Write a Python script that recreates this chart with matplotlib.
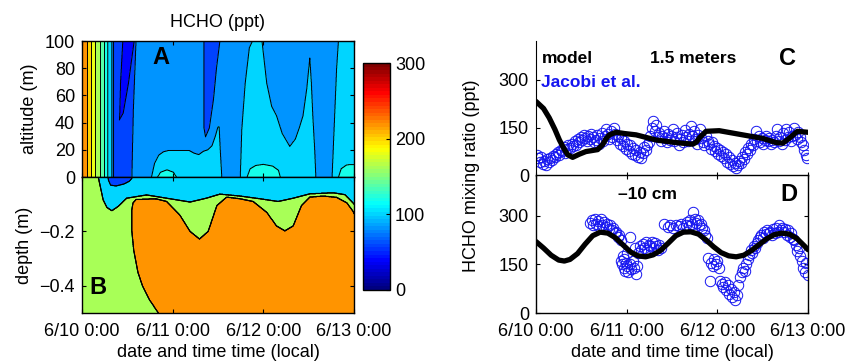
import numpy as np
import matplotlib
matplotlib.use('Agg')
import matplotlib.pyplot as plt
from matplotlib.colors import LinearSegmentedColormap, Normalize
from matplotlib.cm import ScalarMappable

plt.rcParams['font.family'] = ['Liberation Sans', 'DejaVu Sans']
plt.rcParams['font.size'] = 13

# ------------------------------------------------------------------ data
date_ticks = [0, 24, 48, 72]                     # hours since 6/10 0:00
date_labels = ['6/10 0:00', '6/11 0:00', '6/12 0:00', '6/13 0:00']
contour_levels = list(range(0, 301, 20))
cbar_ticks = [0, 100, 200, 300]

# Panel A (air, altitude m) - regions of the HCHO field
a_background = 90
a_left_t = [0, 1.4, 7.9, 8.35, 8.4]
a_left_v = [235, 220, 100, 80, 70]
a_dark_val = 70
a_dark_right_alt = [0, 50, 100]
a_dark_right_t = [13.2, 13.6, 14.3]
a_navy_val = 50
a_navy_alt = [42, 47, 69, 100]
a_navy_left_t = [9.9, 10.0, 10.2, 10.8]
a_navy_right_t = [9.9, 10.9, 12.3, 13.8]
a_blob_val = 70
a_blob_alt = [29.6, 36, 57, 80, 100]
a_blob_left_t = [32.7, 32.3, 32.3, 32.3, 32.3]
a_blob_right_t = [32.7, 33.7, 34.8, 35.6, 36.5]
a_cyan_val = 110
a_cyan_t = [0, 18.2, 18.4, 19.2, 20.3, 21.5, 23.0, 28.3, 29.7, 30.9, 32.2, 33.3,
            34.4, 35.3, 36.0, 36.3, 36.6, 37.0, 37.2,
            41.7, 41.9, 42.3, 43.2, 44.3, 45.3, 47.6, 48.9, 50.2, 51.5, 53.0,
            55.0, 56.5, 57.5, 58.5, 59.5, 60.3, 60.7, 61.1, 61.6, 61.9, 62.1,
            66.0, 66.2, 66.8, 67.4, 67.9, 72]
a_cyan_top = [-5, -5, 0, 10, 16, 18.5, 19.6, 19.6, 17.5, 16.5, 19, 20,
              23, 30, 37, 37, 20, 0, -5,
              -5, 0, 35, 69, 95, 101, 101, 69, 52, 45, 32,
              22.5, 28, 36, 45, 65, 87.5, 70, 45, 20, 0, -5,
              -5, 0, 40, 80, 101, 101]
a_aqua_val = 130
a_aqua_t = [0, 19.7, 20.0, 20.8, 22.5, 24.2, 25.0, 25.3,
            43.4, 43.7, 44.5, 46.0, 48.0, 50.5, 52.0, 52.5, 52.8,
            67.6, 67.9, 68.6, 70.0, 71.0, 72]
a_aqua_top = [-3, -3, 0, 3.5, 5.3, 3.5, 0, -3,
              -3, 0, 6, 8.5, 9.3, 8, 5, 0, -3,
              -3, 0, 6, 8.8, 9.2, 9.2]

# Panel B (snow, depth m)
b_background = 170
b_cyan_val = 110
b_cyan_t = [0, 4.0, 4.3, 5.6, 6.6, 7.9, 9.6, 11.8, 17.1, 22.4, 28.6, 32.9,
            36.5, 41.8, 47.1, 51.9, 55.9, 60.3, 66.5, 69.6, 71.8, 72]
b_cyan_bottom = [0.02, 0.02, 0.0, -0.084, -0.112, -0.124, -0.108, -0.078,
                 -0.066, -0.078, -0.092, -0.078, -0.063, -0.07, -0.08, -0.09,
                 -0.078, -0.062, -0.058, -0.065, -0.096, -0.1]
b_strip_val = 70
b_strip_t = [0, 6.8, 7.0, 7.6, 9.0, 11.0, 12.5, 13.2, 13.4, 72]
b_strip_bottom = [0.01, 0.01, -0.012, -0.03, -0.033, -0.026, -0.016, -0.005, 0.01, 0.01]
b_orange_val = 230
b_orange_top_t = [13.2, 14.2, 19.5, 22.4, 25.9, 28.6, 31.1, 33.4, 35.7, 38.3,
                  41.8, 45.3, 48.9, 51.5, 53.7, 55.9, 58.1, 60.3, 63.9, 67.4,
                  70.1, 71.8, 72]
b_orange_top_d = [-0.095, -0.083, -0.08, -0.09, -0.14, -0.2, -0.228, -0.2,
                  -0.105, -0.074, -0.08, -0.09, -0.13, -0.18, -0.198, -0.18,
                  -0.105, -0.074, -0.07, -0.075, -0.095, -0.127, -0.135]
b_orange_left_depth = [0.08, 0.095, 0.12, 0.2, 0.27, 0.35, 0.4, 0.45, 0.5]
b_orange_left_t = [14.5, 13.5, 13.2, 13.2, 13.7, 14.8, 16.0, 17.8, 20.2]

# Panel C (1.5 m): model and Jacobi et al. measurements
c_model_t = [0, 2, 3.5, 5, 6.2, 7.4, 8.4, 9.7, 11.5, 13.2, 16.3, 17.6, 18.5,
             19.4, 21.2, 23.5, 26.5, 31.8, 37, 41.5, 42.5, 43.2, 45, 48.5,
             54.7, 60, 63.5, 65.3, 67, 69.2, 72]
c_model_v = [232, 210, 181, 145, 112, 85, 66, 58, 68, 76, 82, 97, 115,
             128, 136, 132, 128, 112, 104, 99, 106, 118, 139, 141,
             128, 117, 104, 102, 117, 139, 136]
c_obs_t = [0.2, 0.6, 1.0, 1.4, 1.8, 2.2, 2.6, 3.0, 3.4, 3.8, 4.2, 4.6, 5.0, 5.4,
           5.8, 6.2, 6.6, 7.0, 7.4, 7.8, 8.2, 8.6, 9.0, 9.4, 9.8, 10.2, 10.6,
           11.0, 11.4, 11.8, 12.2, 12.6, 13.0, 13.4, 13.8, 14.2, 14.6, 15.0,
           15.4, 15.8, 16.2, 16.6, 17.0, 17.4, 17.8, 18.2, 18.6, 19.0, 19.4,
           19.8, 20.2, 20.6, 21.0, 21.4, 21.8, 22.2, 22.6, 23.0, 23.4, 23.8,
           24.2, 24.6, 25.0, 25.4, 25.8, 26.2, 26.6, 27.0, 27.4, 27.8, 28.2,
           28.6, 29.0, 29.4, 29.8, 30.2, 30.6, 31.0, 31.4, 31.8, 32.2, 32.6,
           33.0, 33.4, 33.8, 34.2, 34.6, 35.0, 35.4, 35.8, 36.2, 36.6, 37.0,
           37.4, 37.8, 38.2, 38.6, 39.0, 39.4, 39.8, 40.2, 40.6, 41.0, 41.4,
           41.8, 42.2, 42.6, 43.0, 43.4, 43.8, 44.2, 44.6, 45.0, 45.4, 45.8,
           46.2, 46.6, 47.0, 47.4, 47.8, 48.2, 48.6, 49.0, 49.4, 49.8, 50.2,
           50.6, 51.0, 51.4, 51.8, 52.2, 52.6, 53.0, 53.4, 53.8, 54.2, 54.6,
           55.0, 55.4, 55.8, 56.2, 56.6, 57.0, 57.4, 57.8, 58.2, 58.6, 59.0,
           59.4, 59.8, 60.2, 60.6, 61.0, 61.4, 61.8, 62.2, 62.6, 63.0, 63.4,
           63.8, 64.2, 64.6, 65.0, 65.4, 65.8, 66.2, 66.6, 67.0, 67.4, 67.8,
           68.2, 68.6, 69.0, 69.4, 69.8, 70.2, 70.6, 71.0, 71.4, 71.8]
c_obs_v = [65, 55, 45, 60, 38, 48, 35, 52, 45, 55, 50, 62, 58, 70,
           75, 66, 82, 78, 90, 72, 85, 95, 88, 100, 92, 108, 98,
           115, 105, 122, 112, 128, 118, 108, 125, 115, 132, 120,
           105, 112, 128, 100, 118, 135, 110, 125, 145, 130, 115,
           140, 122, 148, 130, 112, 125, 100, 118, 92, 108, 85,
           100, 78, 95, 70, 88, 65, 80, 60, 75, 55, 72,
           90, 82, 98, 105, 125, 150, 170, 140, 160, 120, 135,
           110, 125, 140, 118, 105, 132, 112, 125, 145, 108, 120,
           135, 98, 115, 128, 105, 142, 120, 110, 130, 155, 125,
           140, 115, 100, 128, 145, 118, 105, 95, 125, 110, 100,
           85, 105, 92, 78, 88, 70, 82, 62, 75, 55, 68,
           45, 58, 38, 50, 30, 42, 25, 35, 48, 40, 60,
           52, 75, 68, 88, 80, 100, 95, 115, 140, 110, 125,
           105, 118, 100, 112, 125, 108, 118, 100, 112, 105, 125,
           145, 110, 120, 100, 135, 112, 145, 120, 138, 110, 125,
           148, 128, 115, 138, 120, 105, 95, 80, 65, 55]

# Panel D (-10 cm)
d_model_t = [0, 2, 4, 6, 7.5, 9, 11, 13, 15, 17, 19, 21, 23, 25, 27, 29, 31,
             33, 35, 37, 39, 41, 43, 45, 47, 49, 51, 53, 55, 57, 59, 61, 63,
             65, 67, 69, 71, 72]
d_model_v = [220, 200, 178, 163, 160, 165, 183, 212, 238, 249, 246, 232, 210,
             188, 176, 173, 179, 193, 215, 238, 249, 250, 243, 225, 204, 186,
             176, 173, 178, 192, 210, 228, 241, 246, 243, 230, 207, 195]
d_obs_t = [14.4, 14.8, 15.2, 15.6, 16.0, 16.4, 16.8, 17.2, 17.6, 18.0, 18.4,
           18.8, 19.2, 19.6, 20.0, 20.4, 20.8, 21.2, 21.6, 22.0, 22.4, 22.6,
           22.8, 23.0, 23.2, 23.4, 23.6, 23.8, 24.0, 24.2, 24.4, 24.8, 25.2,
           25.6, 26.0, 26.4, 26.8, 25.0, 26.2, 27.0, 27.4, 27.8, 28.2, 28.6,
           29.0, 29.4, 29.8, 30.2, 30.6, 31.0, 31.4, 31.8, 32.2, 32.6, 33.0,
           34.0, 35.0, 35.6, 36.2, 37.0, 37.8, 38.4, 39.0, 39.6, 40.0, 40.4,
           40.8, 41.2, 41.6, 42.0, 42.4, 42.8, 43.2, 43.6, 44.0, 44.4, 44.8,
           45.2, 45.6, 46.0, 46.4, 46.8, 47.2, 47.6, 48.0, 48.4, 48.8, 49.2,
           49.6, 50.0, 50.4, 50.8, 51.2, 51.6, 52.0, 52.4, 52.8, 53.2, 53.6,
           54.0, 54.4, 54.8, 55.2, 55.6, 56.0, 56.4, 56.8, 57.2, 57.6, 58.0,
           58.4, 58.8, 59.2, 59.6, 60.0, 60.4, 60.8, 61.2, 61.6, 62.0, 62.4,
           62.8, 63.2, 63.6, 64.0, 64.4, 64.8, 65.2, 65.6, 66.0, 66.4, 66.8,
           67.2, 67.6, 68.0, 68.4, 68.8, 69.2, 69.6, 70.0, 70.4, 70.8, 71.2,
           71.6, 71.9]
d_obs_v = [278, 285, 270, 290, 275, 282, 268, 288, 272, 280, 265,
           275, 260, 270, 255, 262, 245, 250, 235, 240, 225, 160,
           150, 175, 140, 165, 130, 155, 145, 185, 125, 150, 135,
           160, 140, 120, 145, 235, 200, 185, 205, 195, 212, 200,
           218, 195, 210, 205, 220, 200, 215, 205, 195, 210, 200,
           275, 265, 270, 262, 272, 268, 275, 262, 272, 280, 268,
           285, 275, 310, 288, 278, 285, 270, 275, 262, 255, 240,
           230, 170, 100, 155, 145, 165, 150, 160, 140, 100, 90,
           80, 95, 70, 85, 60, 75, 50, 65, 40, 55, 85,
           110, 125, 140, 130, 150, 165, 180, 195, 185, 205, 200,
           215, 225, 235, 240, 230, 250, 242, 255, 245, 250, 240,
           258, 245, 262, 250, 270, 255, 262, 248, 258, 240, 255,
           235, 245, 228, 225, 210, 190, 200, 175, 160, 140, 125,
           155, 118]

# ------------------------------------------------------------------ styles
mjet = LinearSegmentedColormap('mjet', {
    'red':   [(0, 0, 0), (3/8, 0, 0), (5/8, 1, 1), (7/8, 1, 1), (1, .5, .5)],
    'green': [(0, 0, 0), (1/8, 0, 0), (3/8, 1, 1), (5/8, 1, 1), (7/8, 0, 0), (1, 0, 0)],
    'blue':  [(0, .5, .5), (1/8, 1, 1), (3/8, 1, 1), (5/8, 0, 0), (1, 0, 0)],
}, N=64)
norm = Normalize(0, 300)
fill_colors = [mjet(norm(l)) for l in contour_levels[:-1]]

W, H = 848, 362
fig = plt.figure(figsize=(W / 100, H / 100), dpi=100)


def rect(x0, y0, x1, y1):
    return [x0 / W, 1 - y1 / H, (x1 - x0) / W, (y1 - y0) / H]


def style_ax(ax):
    ax.tick_params(direction='in', length=3, width=0.8, top=True, right=True,
                   labelsize=13, pad=5)
    ax.tick_params(axis='x', pad=7)
    for s in ax.spines.values():
        s.set_linewidth(1.0)


# ---------------- field A
tA = np.linspace(0, 72, 1441)
zA = np.linspace(0, 100, 501)
TA, ZA = np.meshgrid(tA, zA)
FA = np.full(TA.shape, float(a_background))
m = TA < 8.4
FA[m] = np.interp(TA[m], a_left_t, a_left_v)
m = (TA >= 8.4) & (TA < np.interp(ZA, a_dark_right_alt, a_dark_right_t))
FA[m] = a_dark_val
m = (ZA >= a_navy_alt[0]) & (TA >= np.interp(ZA, a_navy_alt, a_navy_left_t)) & \
    (TA <= np.interp(ZA, a_navy_alt, a_navy_right_t))
FA[m] = a_navy_val
m = (ZA >= a_blob_alt[0]) & (TA >= np.interp(ZA, a_blob_alt, a_blob_left_t)) & \
    (TA <= np.interp(ZA, a_blob_alt, a_blob_right_t))
FA[m] = a_blob_val
m = ZA < np.interp(TA, a_cyan_t, a_cyan_top)
FA[m] = a_cyan_val
m = ZA < np.interp(TA, a_aqua_t, a_aqua_top)
FA[m] = a_aqua_val

# ---------------- field B
tB = np.linspace(0, 72, 1441)
dB = np.linspace(-0.5, 0, 501)
TB, DB = np.meshgrid(tB, dB)
FB = np.full(TB.shape, float(b_background))
m = DB > np.interp(TB, b_cyan_t, b_cyan_bottom)
FB[m] = b_cyan_val
m = DB > np.interp(TB, b_strip_t, b_strip_bottom)
FB[m] = b_strip_val
m = (TB >= b_orange_top_t[0]) & (DB < np.interp(TB, b_orange_top_t, b_orange_top_d)) & \
    (TB > np.interp(-DB, b_orange_left_depth, b_orange_left_t))
FB[m] = b_orange_val

# ---------------- Axes A
axA = fig.add_axes(rect(82, 41, 354, 177))
axA.contourf(TA, ZA, FA, levels=contour_levels, colors=fill_colors)
axA.contour(TA, ZA, FA, levels=contour_levels, colors='k', linewidths=0.7)
axA.set_xlim(0, 72)
axA.set_ylim(0, 100)
axA.set_xticks(date_ticks)
axA.set_xticklabels([])
axA.set_yticks([0, 20, 40, 60, 80, 100])
axA.set_ylabel('altitude (m)', labelpad=5)
axA.set_title('HCHO (ppt)', fontsize=13, pad=10)
axA.text(0.29, 0.88, 'A', transform=axA.transAxes, fontsize=17,
         fontweight='bold', ha='center', va='center')
style_ax(axA)

# ---------------- Axes B
axB = fig.add_axes(rect(82, 177, 354, 313))
axB.contourf(TB, DB, FB, levels=contour_levels, colors=fill_colors)
axB.contour(TB, DB, FB, levels=contour_levels, colors='k', linewidths=0.7)
axB.set_xlim(0, 72)
axB.set_ylim(-0.5, 0)
axB.set_xticks(date_ticks)
axB.set_xticklabels(date_labels)
axB.set_yticks([-0.4, -0.2])
axB.set_ylabel('depth (m)', labelpad=5)
axB.set_xlabel('date and time time (local)', labelpad=3)
axB.text(0.06, 0.19, 'B', transform=axB.transAxes, fontsize=17,
         fontweight='bold', ha='center', va='center')
style_ax(axB)

# ---------------- Colorbar
axC_bar = fig.add_axes(rect(363, 63, 390, 290))
cb = fig.colorbar(ScalarMappable(norm=norm, cmap=mjet), cax=axC_bar, ticks=cbar_ticks)
cb.ax.tick_params(direction='in', length=3, labelsize=13)
cb.outline.set_linewidth(1.0)

# ---------------- Axes C
axC = fig.add_axes(rect(536, 41, 808, 176))
axC.plot(c_obs_t, c_obs_v, 'o', mfc='none', mec='#1515f0', ms=7.5, mew=0.7)
axC.plot(c_model_t, c_model_v, '-', color='k', lw=3.8, solid_capstyle='round')
axC.set_xlim(0, 72)
axC.set_ylim(0, 420)
axC.set_xticks(date_ticks)
axC.set_xticklabels([])
axC.set_yticks([0, 150, 300])
axC.spines['top'].set_visible(False)
axC.spines['right'].set_visible(False)
axC.tick_params(direction='in', length=3, width=0.8, labelsize=13, pad=5)
axC.text(0.02, 0.87, 'model', transform=axC.transAxes, fontsize=12.5,
         fontweight='bold', ha='left', va='center')
axC.text(0.42, 0.87, '1.5 meters', transform=axC.transAxes, fontsize=12.5,
         fontweight='bold', ha='left', va='center')
axC.text(0.02, 0.69, 'Jacobi et al.', transform=axC.transAxes, fontsize=12.5,
         fontweight='bold', color='#1515f0', ha='left', va='center')
axC.text(0.925, 0.87, 'C', transform=axC.transAxes, fontsize=17,
         fontweight='bold', ha='center', va='center')

# ---------------- Axes D
axD = fig.add_axes(rect(536, 175, 808, 313))
axD.plot(d_obs_t, d_obs_v, 'o', mfc='none', mec='#1515f0', ms=7.5, mew=0.7)
axD.plot(d_model_t, d_model_v, '-', color='k', lw=3.8, solid_capstyle='round')
axD.set_xlim(0, 72)
axD.set_ylim(0, 425)
axD.set_xticks(date_ticks)
axD.set_xticklabels(date_labels)
axD.set_yticks([0, 150, 300])
axD.set_xlabel('date and time time (local)', labelpad=3)
axD.text(0.41, 0.86, '\u201310 cm', transform=axD.transAxes, fontsize=12.5,
         fontweight='bold', ha='center', va='center')
axD.text(0.93, 0.86, 'D', transform=axD.transAxes, fontsize=17,
         fontweight='bold', ha='center', va='center')
style_ax(axD)

fig.text(472 / W, 1 - 176 / H, 'HCHO mixing ratio (ppt)', rotation=90,
         ha='center', va='center', fontsize=13)

fig.savefig('out.png', dpi=100)
